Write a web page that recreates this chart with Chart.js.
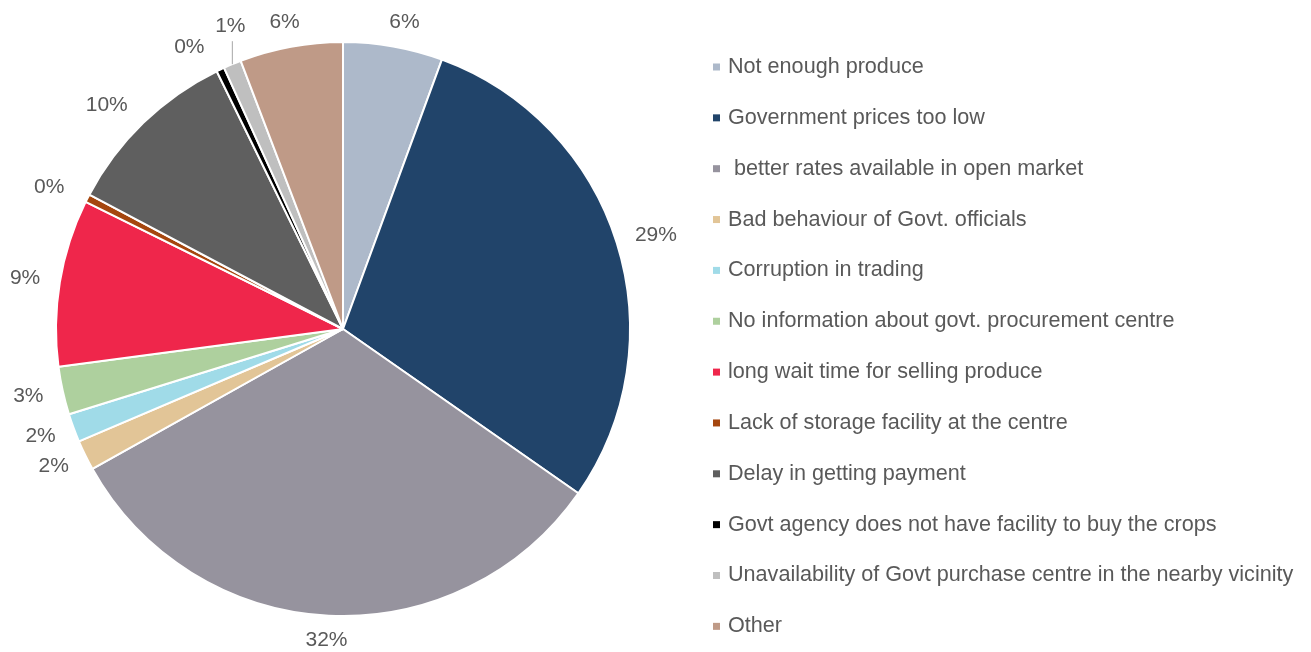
<!DOCTYPE html>
<html>
<head>
<meta charset="utf-8">
<title>Reasons for not selling to government</title>
<script src="https://cdn.jsdelivr.net/npm/chart.js@4.4.1/dist/chart.umd.min.js"></script>
<style>
  html, body { margin: 0; padding: 0; background: #fff; }
  #wrap { width: 1311px; height: 652px; }
</style>
</head>
<body>
<div id="wrap"><canvas id="reasonsChart" width="1311" height="652"></canvas></div>
<script>
// data (share of respondents, %)
const reasons = [
  'Not enough produce',
  'Government prices too low',
  ' better rates available in open market',
  'Bad behaviour of Govt. officials',
  'Corruption in trading',
  'No information about govt. procurement centre',
  'long wait time for selling produce',
  'Lack of storage facility at the centre',
  'Delay in getting payment',
  'Govt agency does not have facility to buy the crops',
  'Unavailability of Govt purchase centre in the nearby vicinity',
  'Other'
];
const shares = [5.6, 29.1, 32.2, 1.7, 1.6, 2.7, 9.4, 0.45, 10.0, 0.45, 1.0, 5.8];

const colours = [
  '#adb9ca', '#21446a', '#96939e', '#e2c597', '#a0dbe8', '#aed09e',
  '#ef264b', '#a5460e', '#5f5f5f', '#000000', '#bfbfbf', '#bf9a87'
];

// label tweaks (like the hand-moved labels in the original)
const labelShiftX = [5, 0, 0, 0, 0, 0, 0, -7, -8, -16, 0, 0];
const leaderLen = [0, 0, 0, 0, 0, 0, 0, 0, 0, 0, 23, 0];

const FONT = '"Liberation Sans", Arial, sans-serif';
const TEXT = '#595959';

const pieLabels = {
  id: 'pieLabels',
  afterDatasetsDraw(chart) {
    const ctx = chart.ctx;
    const meta = chart.getDatasetMeta(0);
    const total = shares.reduce((a, b) => a + b, 0);
    ctx.save();
    ctx.font = '21px ' + FONT;
    ctx.fillStyle = TEXT;
    ctx.textAlign = 'center';
    ctx.textBaseline = 'middle';
    meta.data.forEach((arc, i) => {
      const p = arc.getProps(['x', 'y', 'startAngle', 'endAngle', 'outerRadius'], true);
      const mid = (p.startAngle + p.endAngle) / 2;
      const dx = Math.cos(mid), dy = Math.sin(mid);
      const txt = Math.round(shares[i] / total * 100) + '%';
      const halfW = ctx.measureText(txt).width / 2 + 6;
      const halfH = 11;
      let tx, ty;
      if (leaderLen[i]) {
        const ex = p.x + p.outerRadius * dx;
        const ey = p.y + p.outerRadius * dy;
        ctx.strokeStyle = '#a6a6a6';
        ctx.lineWidth = 1;
        ctx.beginPath();
        ctx.moveTo(ex, ey);
        ctx.lineTo(ex, ey - leaderLen[i]);
        ctx.stroke();
        tx = ex - 2;
        ty = ey - leaderLen[i] - 15;
      } else {
        const r = p.outerRadius + 14;
        tx = p.x + r * dx + halfW * dx + labelShiftX[i];
        ty = p.y + r * dy + halfH * dy;
      }
      ctx.fillText(txt, tx, ty);
    });
    ctx.restore();
  }
};

const sideLegend = {
  id: 'sideLegend',
  afterDraw(chart) {
    const ctx = chart.ctx;
    ctx.save();
    ctx.font = '21.6px ' + FONT;
    ctx.textAlign = 'left';
    ctx.textBaseline = 'middle';
    reasons.forEach((name, i) => {
      const y = 67 + i * 50.85;
      ctx.fillStyle = colours[i];
      ctx.fillRect(713, y - 3.5, 7, 7);
      ctx.fillStyle = TEXT;
      ctx.fillText(name, 728, y);
    });
    ctx.restore();
  }
};

new Chart(document.getElementById('reasonsChart'), {
  type: 'pie',
  data: {
    labels: reasons,
    datasets: [{
      data: shares,
      backgroundColor: colours,
      borderColor: '#ffffff',
      borderWidth: 2
    }]
  },
  options: {
    responsive: false,
    animation: false,
    layout: { padding: { top: 41, bottom: 35, left: 55, right: 680 } },
    plugins: {
      legend: { display: false },
      tooltip: { enabled: false }
    }
  },
  plugins: [pieLabels, sideLegend]
});
</script>
</body>
</html>
